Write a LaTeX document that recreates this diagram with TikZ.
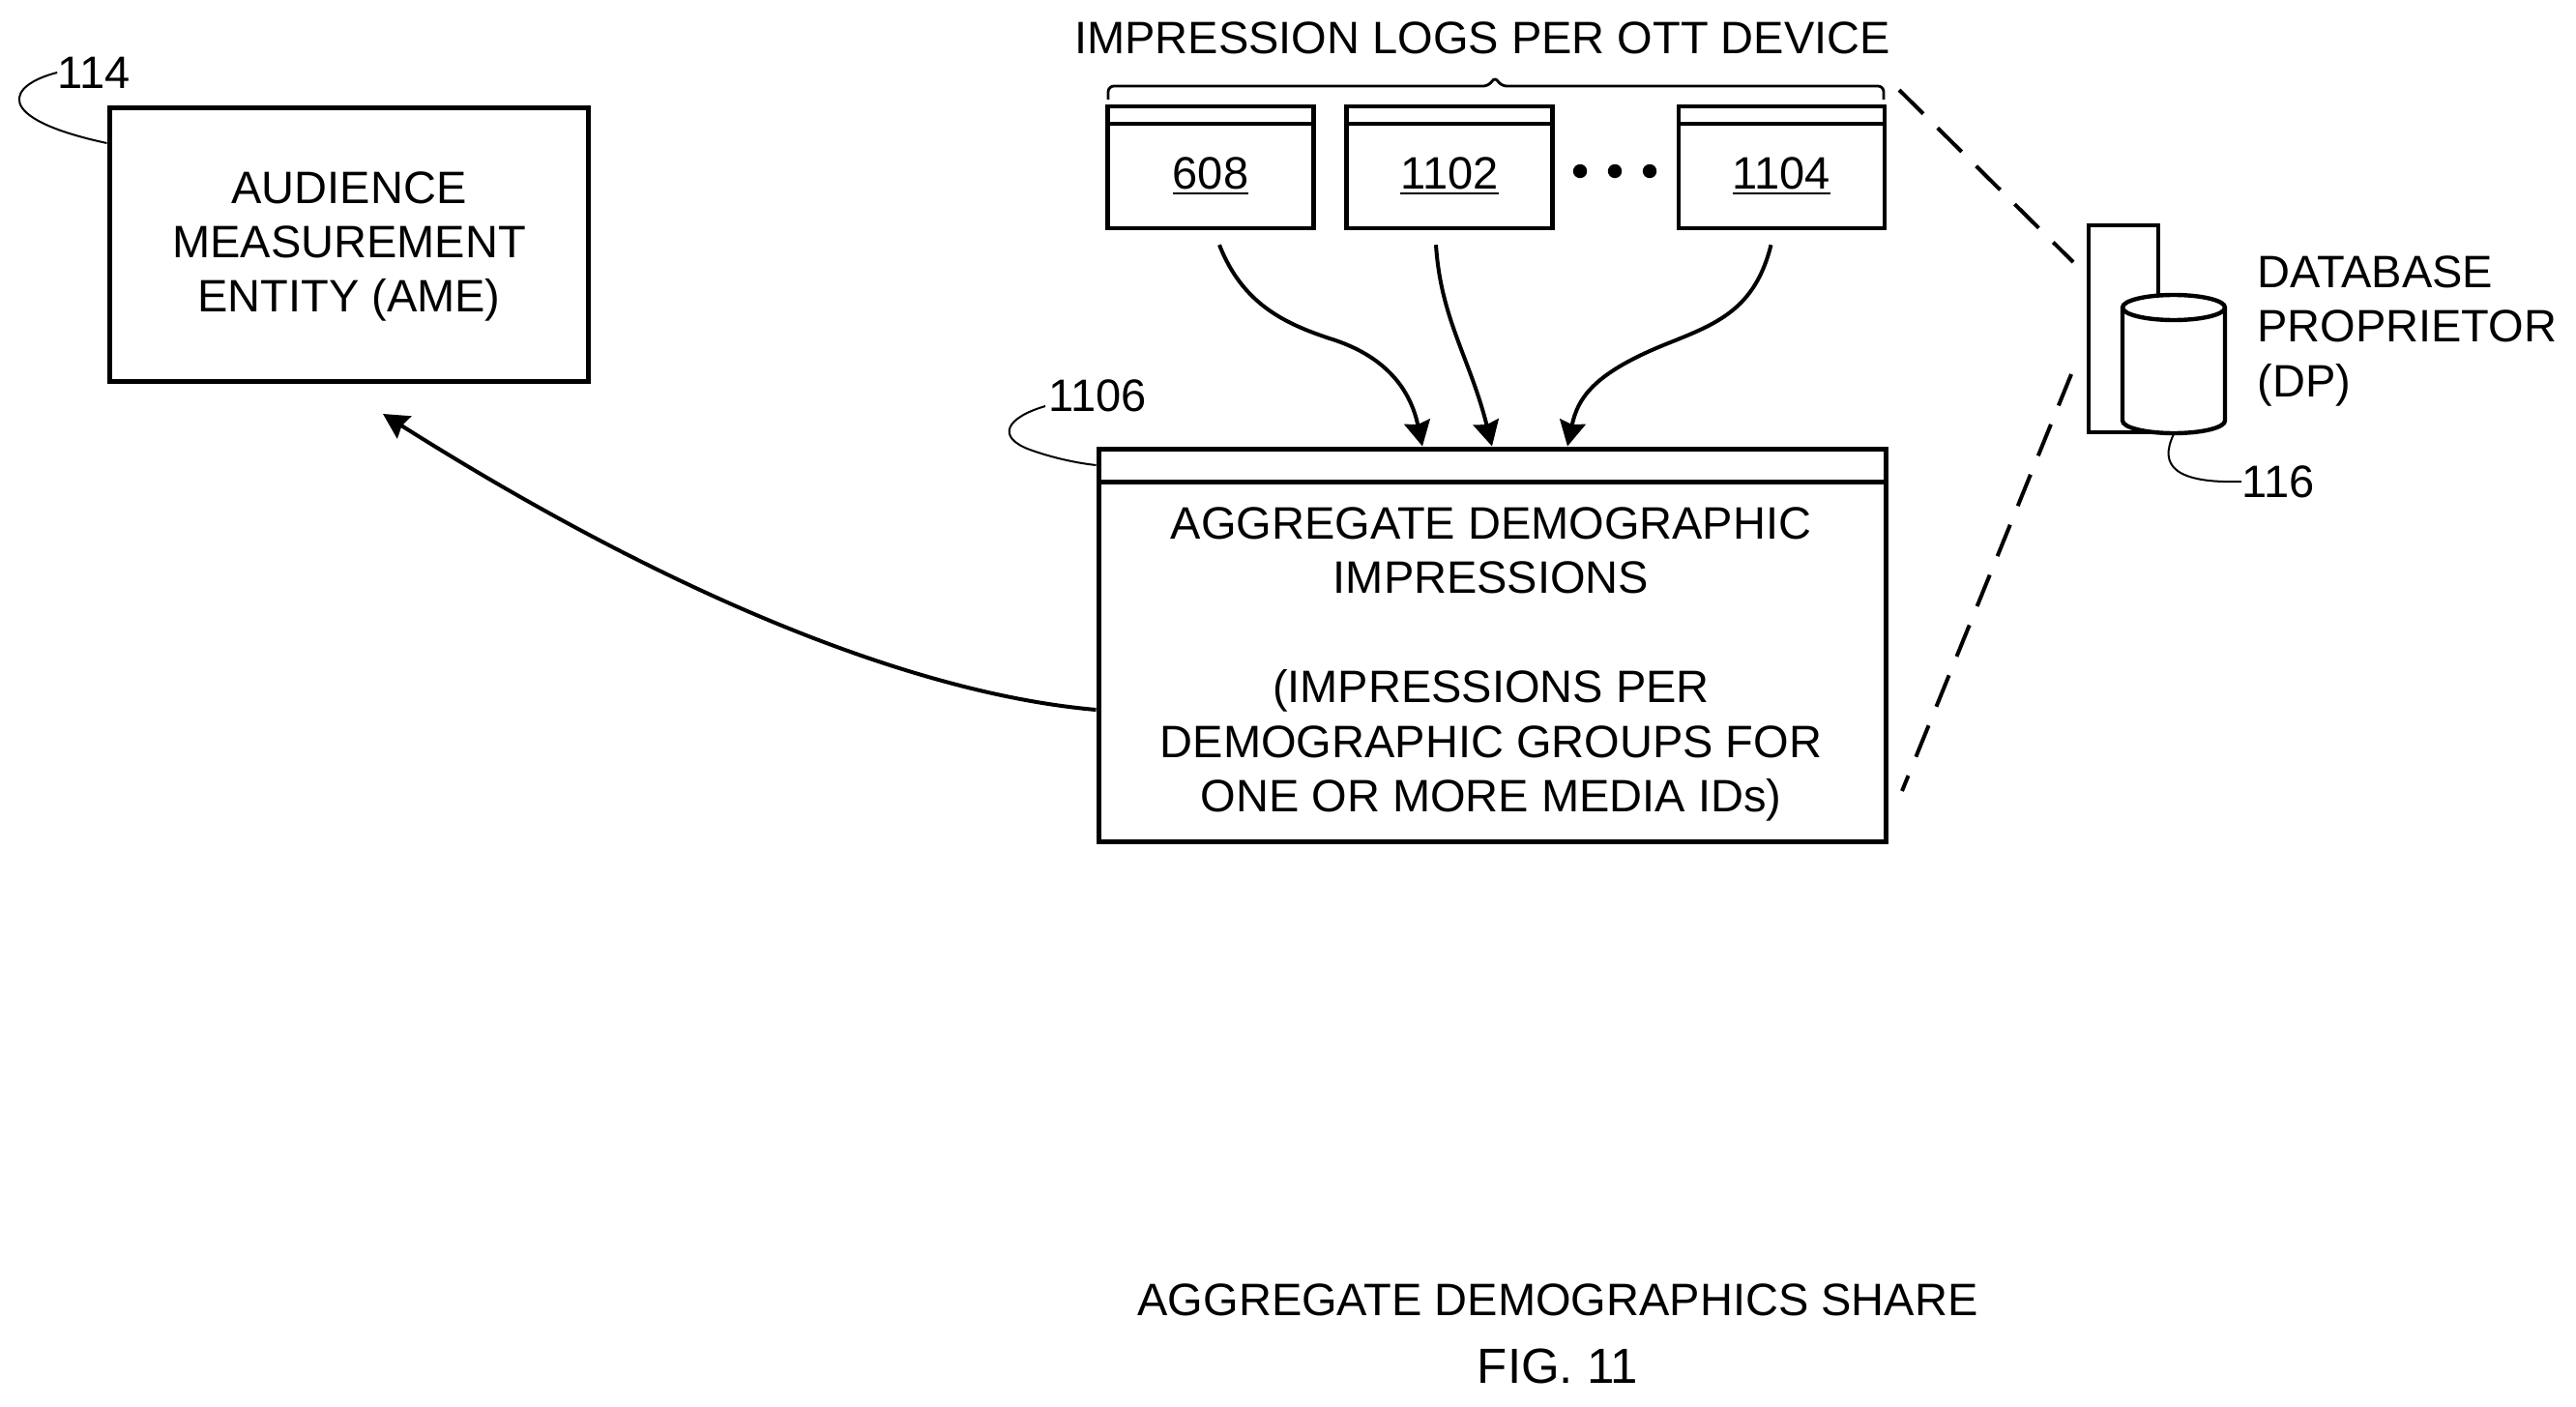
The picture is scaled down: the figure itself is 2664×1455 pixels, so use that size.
\documentclass[tikz,border=0pt]{standalone}
\usepackage{fontspec}
\setmainfont{Liberation Sans}
\usetikzlibrary{arrows.meta}
\newcommand{\lognum}[1]{\setbox0\hbox{#1}\rlap{\rule[-2.6pt]{\wd0}{1.1pt}}\box0}
\tikzset{
	every node/.style={font=\fontsize{23.5pt}{28.2pt}\selectfont,align=center,inner sep=0pt},
	boxnode/.style={draw=black,fill=white,line width=2.5pt},
	logbody/.style={boxnode,line width=2.2pt,minimum width=106.5pt,minimum height=54pt},
	logbar/.style={boxnode,line width=2.2pt,minimum width=106.5pt,minimum height=9pt},
	flow/.style={line width=2pt,-{Stealth[length=13pt,width=13.5pt,inset=1.5pt]}},
	leader/.style={line width=1pt},
	dashline/.style={line width=2pt,dash pattern=on 17.5pt off 10.5pt},
	dbrim/.style={start angle=180,end angle=360,x radius=26.5pt,y radius=6.5pt}
}
\begin{document}
\begin{tikzpicture}[x=0.5pt,y=-0.5pt]
	\useasboundingbox (0,0) rectangle (2664,1455);
	\node[boxnode,minimum width=247.5pt,minimum height=141pt] (ame) at (360.5,253) {};
	\node (amename) at (361,255) {AUDIENCE\\MEASUREMENT\\ENTITY (AME)};
	\node (amenum) at (97,75) {114};
	\draw[leader] (amenum.west) .. controls (8,88) and (-10,122) .. (ame.west |- 0,148);
	\node (logtitle) at (1533,39) {IMPRESSION LOGS PER OTT DEVICE};
	\draw[line width=1.4pt,rounded corners=3pt] (1146,103) -- (1146,89) -- (1540,89) -- (1546,79) -- (1552,89) -- (1948,89) -- (1948,103);
	\foreach \x/\lbl in {1252/608,1499/1102,1842.5/1104} {
	  \node[logbar] (bar\lbl) at (\x,119) {};
	  \node[logbody] (log\lbl) at (\x,182) {\lognum{\lbl}};
	}
	\foreach \x in {1634,1670,1706}
	  \fill (\x,177) circle (3.6pt);
	\node[boxnode,minimum width=407pt,minimum height=17pt] (aggbar) at (1543,481) {};
	\node[boxnode,minimum width=407pt,minimum height=186pt] (agg) at (1543,684) {};
	\node (aggtext) at (1542,687) {AGGREGATE DEMOGRAPHIC\\IMPRESSIONS\\[28.2pt](IMPRESSIONS PER\\DEMOGRAPHIC GROUPS FOR\\ONE OR MORE MEDIA IDs)};
	\node (aggnum) at (1135,409) {1106};
	\draw[leader] (1081,420) .. controls (1040,432) and (1030,452) .. (1065,465) .. controls (1090,474) and (1115,479) .. (aggbar.west);
	\draw[flow] ([xshift=4.5pt,yshift=-7.5pt]log608.south) .. controls (1285,315) and (1330,335) .. (1375,350) .. controls (1440,370) and (1460,410) .. ([xshift=-36pt]aggbar.north);
	\draw[flow] ([xshift=-7pt,yshift=-7.5pt]log1102.south) .. controls (1490,330) and (1520,370) .. (aggbar.north);
	\draw[flow] ([xshift=-5.5pt,yshift=-7.5pt]log1104.south) .. controls (1815,320) and (1775,335) .. (1725,355) .. controls (1650,385) and (1632,410) .. ([xshift=39pt]aggbar.north);
	\draw[flow] (agg.west |- 0,734) .. controls (950,718) and (700,620) .. (396,428);
	\node[draw=black,line width=2.2pt,minimum width=36pt,minimum height=107pt] (rack) at (2196,340) {};
	\node[minimum width=53pt,minimum height=71.5pt] (db) at (2248,377) {};
	\filldraw[fill=white,line width=2.2pt] (2195,318) -- (2195,435) arc[dbrim] -- (2301,318) arc[start angle=0,end angle=180,x radius=26.5pt,y radius=6.5pt] -- cycle;
	\draw[line width=2.2pt] (2195,318) arc[dbrim];
	\node[align=left,anchor=north west] (dbname) at (2334,264) {DATABASE\\PROPRIETOR\\(DP)};
	\node (dbnum) at (2356,498) {116};
	\draw[leader] (db.south) .. controls (2232,482) and (2250,500) .. (dbnum.west);
	\coordinate (dashupa) at (1964,93);
	\coordinate (dashupb) at (2144,271);
	\coordinate (dashlowa) at (2142,387);
	\coordinate (dashlowb) at (1967,818);
	\draw[dashline] (dashupa) -- (dashupb);
	\draw[dashline] (dashlowa) -- (dashlowb);
	\node (caption) at (1611,1344) {AGGREGATE DEMOGRAPHICS SHARE};
	\node[font=\fontsize{25.5pt}{28pt}\selectfont] (fignum) at (1611,1413) {FIG. 11};
\end{tikzpicture}
\end{document}
